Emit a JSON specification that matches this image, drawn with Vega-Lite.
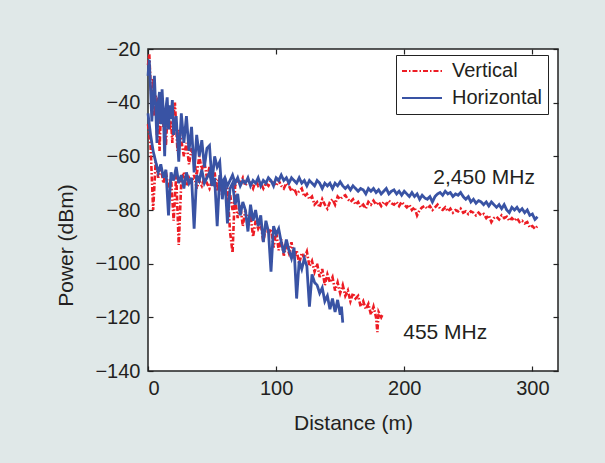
{
  "$schema": "https://vega.github.io/schema/vega-lite/v6.json",
  "width": 410,
  "height": 322,
  "autosize": {"type": "none"},
  "padding": {"left": 148, "top": 49, "right": 47, "bottom": 92},
  "background": "#e0e8e8",
  "config": {
    "view": {"fill": "white", "stroke": "#222", "strokeWidth": 1.5},
    "font": "Liberation Sans",
    "axis": {"grid": false, "domain": false, "ticks": true, "tickColor": "#222", "tickSize": -5, "tickWidth": 1.2,
      "labelFontSize": 20, "labelColor": "#231f20", "labelFont": "Liberation Sans",
      "titleFontSize": 21, "titleFontWeight": "normal", "titleColor": "#231f20", "titleFont": "Liberation Sans"},
    "legend": {"labelFont": "Liberation Sans"}
  },
  "datasets": {
    "v455": [
      {"x":0,"y":-26},{"x":1,"y":-22},{"x":2,"y":-33},{"x":3,"y":-40},{"x":4,"y":-31},{"x":5,"y":-45},{"x":6,"y":-37},{"x":7,"y":-52},{"x":8,"y":-38},{"x":9,"y":-58},
      {"x":10,"y":-44},{"x":11,"y":-40},{"x":12,"y":-49},{"x":13,"y":-43},{"x":14,"y":-56},{"x":15,"y":-46},{"x":16,"y":-42},{"x":17,"y":-50},{"x":18,"y":-47},{"x":19,"y":-55},
      {"x":20,"y":-44},{"x":21,"y":-40},{"x":22,"y":-49},{"x":23,"y":-58},{"x":24,"y":-50},{"x":26,"y":-54},{"x":28,"y":-60},{"x":30,"y":-55},{"x":32,"y":-63},{"x":34,"y":-57},
      {"x":36,"y":-62},{"x":38,"y":-67},{"x":40,"y":-60},{"x":42,"y":-65},{"x":44,"y":-62},{"x":46,"y":-68},{"x":48,"y":-64},{"x":50,"y":-70},{"x":52,"y":-66},{"x":54,"y":-73},
      {"x":56,"y":-68},{"x":58,"y":-75},{"x":60,"y":-71},{"x":62,"y":-78},{"x":64,"y":-74},{"x":66,"y":-80},{"x":68,"y":-76},{"x":70,"y":-83},{"x":72,"y":-78},{"x":74,"y":-86},
      {"x":76,"y":-80},{"x":78,"y":-84},{"x":80,"y":-82},{"x":82,"y":-90},{"x":84,"y":-84},{"x":86,"y":-87},{"x":88,"y":-85},{"x":90,"y":-92},{"x":92,"y":-86},{"x":94,"y":-89},
      {"x":96,"y":-87},{"x":98,"y":-94},{"x":100,"y":-88},{"x":102,"y":-95},{"x":104,"y":-91},{"x":106,"y":-97},{"x":108,"y":-93},{"x":110,"y":-96},{"x":112,"y":-92},{"x":114,"y":-98},
      {"x":116,"y":-95},{"x":118,"y":-100},{"x":120,"y":-96},{"x":122,"y":-98},{"x":124,"y":-95.5},{"x":126,"y":-101},{"x":128,"y":-99},{"x":130,"y":-103},{"x":132,"y":-100},{"x":134,"y":-105},
      {"x":136,"y":-102},{"x":138,"y":-108},{"x":140,"y":-104},{"x":142,"y":-107},{"x":144,"y":-105},{"x":146,"y":-110},{"x":148,"y":-107},{"x":150,"y":-111},{"x":152,"y":-108},{"x":154,"y":-112},
      {"x":156,"y":-110},{"x":158,"y":-114},{"x":160,"y":-111},{"x":162,"y":-113},{"x":164,"y":-112},{"x":166,"y":-116},{"x":168,"y":-114},{"x":170,"y":-117},{"x":172,"y":-115},{"x":174,"y":-119},
      {"x":176,"y":-116},{"x":178,"y":-120},{"x":179,"y":-125.5},{"x":180,"y":-118},{"x":182,"y":-120},{"x":183,"y":-119}
    ],
    "h455": [
      {"x":0,"y":-30},{"x":1,"y":-24},{"x":2,"y":-35},{"x":3,"y":-47},{"x":4,"y":-38},{"x":5,"y":-30},{"x":6,"y":-42},{"x":7,"y":-55},{"x":8,"y":-40},{"x":9,"y":-36},
      {"x":10,"y":-48},{"x":11,"y":-35},{"x":12,"y":-44},{"x":13,"y":-60},{"x":14,"y":-42},{"x":15,"y":-38},{"x":16,"y":-50},{"x":17,"y":-41},{"x":18,"y":-46},{"x":19,"y":-39},
      {"x":20,"y":-52},{"x":22,"y":-45},{"x":24,"y":-62},{"x":26,"y":-44},{"x":28,"y":-55},{"x":30,"y":-45},{"x":32,"y":-58},{"x":34,"y":-49},{"x":36,"y":-66},{"x":38,"y":-52},
      {"x":40,"y":-60},{"x":42,"y":-54},{"x":44,"y":-64},{"x":46,"y":-57},{"x":48,"y":-56},{"x":50,"y":-70},{"x":52,"y":-60},{"x":54,"y":-64},{"x":56,"y":-62},{"x":58,"y":-76},
      {"x":60,"y":-68},{"x":62,"y":-85},{"x":64,"y":-72},{"x":66,"y":-70},{"x":68,"y":-78},{"x":70,"y":-74},{"x":72,"y":-82},{"x":74,"y":-77},{"x":76,"y":-80},{"x":78,"y":-88},
      {"x":80,"y":-78},{"x":82,"y":-84},{"x":84,"y":-80},{"x":86,"y":-86},{"x":88,"y":-82},{"x":90,"y":-92},{"x":92,"y":-84},{"x":94,"y":-88},{"x":96,"y":-103},{"x":98,"y":-86},
      {"x":100,"y":-89},{"x":102,"y":-87},{"x":104,"y":-92},{"x":106,"y":-96},{"x":108,"y":-91},{"x":110,"y":-95},{"x":112,"y":-98},{"x":114,"y":-94},{"x":116,"y":-113},{"x":118,"y":-99},
      {"x":120,"y":-102},{"x":122,"y":-98},{"x":124,"y":-101},{"x":126,"y":-116},{"x":128,"y":-104},{"x":130,"y":-107},{"x":132,"y":-108},{"x":134,"y":-111},{"x":136,"y":-109},{"x":138,"y":-114},
      {"x":140,"y":-112},{"x":142,"y":-117},{"x":144,"y":-113},{"x":146,"y":-118},{"x":148,"y":-113.5},{"x":150,"y":-119},{"x":151,"y":-116},{"x":152,"y":-122}
    ],
    "v2450": [
      {"x":0,"y":-48},{"x":2,"y":-56},{"x":4,"y":-80},{"x":6,"y":-62},{"x":8,"y":-68},{"x":10,"y":-64},{"x":12,"y":-70},{"x":14,"y":-66},{"x":16,"y":-72},{"x":18,"y":-68},
      {"x":20,"y":-84},{"x":22,"y":-67},{"x":24,"y":-93},{"x":26,"y":-69},{"x":28,"y":-66},{"x":30,"y":-71},{"x":32,"y":-68},{"x":34,"y":-70},{"x":36,"y":-67},{"x":38,"y":-72},
      {"x":40,"y":-69},{"x":42,"y":-71},{"x":44,"y":-68},{"x":46,"y":-70},{"x":48,"y":-72},{"x":50,"y":-69},{"x":52,"y":-71},{"x":54,"y":-70},{"x":56,"y":-68},{"x":58,"y":-71},
      {"x":60,"y":-70},{"x":62,"y":-72},{"x":64,"y":-88},{"x":66,"y":-96},{"x":68,"y":-71},{"x":70,"y":-69},{"x":72,"y":-70},{"x":74,"y":-68},{"x":76,"y":-71},{"x":78,"y":-69},
      {"x":80,"y":-70},{"x":82,"y":-72},{"x":84,"y":-69},{"x":86,"y":-71},{"x":88,"y":-70},{"x":90,"y":-72},{"x":92,"y":-70},{"x":94,"y":-71},{"x":96,"y":-69},{"x":98,"y":-70},
      {"x":100,"y":-71},{"x":102,"y":-69},{"x":104,"y":-71},{"x":106,"y":-72},{"x":108,"y":-70},{"x":110,"y":-71},{"x":112,"y":-73},{"x":114,"y":-72},{"x":116,"y":-74},{"x":118,"y":-73},
      {"x":120,"y":-72},{"x":122,"y":-75},{"x":124,"y":-74},{"x":126,"y":-76},{"x":128,"y":-75},{"x":130,"y":-78},{"x":132,"y":-77},{"x":134,"y":-79},{"x":136,"y":-76},{"x":138,"y":-78},
      {"x":140,"y":-79.5},{"x":142,"y":-77},{"x":144,"y":-76},{"x":146,"y":-78},{"x":148,"y":-75},{"x":150,"y":-76},{"x":152,"y":-75},{"x":154,"y":-74.5},{"x":156,"y":-76},{"x":158,"y":-77},
      {"x":160,"y":-76},{"x":162,"y":-78},{"x":164,"y":-77},{"x":166,"y":-79},{"x":168,"y":-78},{"x":170,"y":-79.5},{"x":172,"y":-77},{"x":174,"y":-78},{"x":176,"y":-76.5},{"x":178,"y":-78},
      {"x":180,"y":-77},{"x":182,"y":-78.5},{"x":184,"y":-77},{"x":186,"y":-78},{"x":188,"y":-76.5},{"x":190,"y":-77.5},{"x":192,"y":-78},{"x":194,"y":-77},{"x":196,"y":-78.5},{"x":198,"y":-77},
      {"x":200,"y":-78},{"x":202,"y":-79},{"x":204,"y":-78},{"x":206,"y":-80},{"x":208,"y":-79},{"x":210,"y":-82},{"x":212,"y":-80},{"x":214,"y":-79},{"x":216,"y":-78.5},{"x":218,"y":-79.5},
      {"x":220,"y":-78.5},{"x":222,"y":-80},{"x":224,"y":-79},{"x":226,"y":-78},{"x":228,"y":-79.5},{"x":230,"y":-80},{"x":232,"y":-79},{"x":234,"y":-80.5},{"x":236,"y":-79.5},{"x":238,"y":-81},
      {"x":240,"y":-80},{"x":242,"y":-80.5},{"x":244,"y":-79.5},{"x":246,"y":-81},{"x":248,"y":-80.5},{"x":250,"y":-81.5},{"x":252,"y":-80.5},{"x":254,"y":-81},{"x":256,"y":-82},{"x":258,"y":-81},
      {"x":260,"y":-82},{"x":262,"y":-81.5},{"x":264,"y":-83},{"x":266,"y":-82},{"x":268,"y":-84.5},{"x":270,"y":-83},{"x":272,"y":-82.5},{"x":274,"y":-83.5},{"x":276,"y":-82},{"x":278,"y":-83},
      {"x":280,"y":-82.5},{"x":282,"y":-84},{"x":284,"y":-83},{"x":286,"y":-84},{"x":288,"y":-83},{"x":290,"y":-84.5},{"x":292,"y":-84},{"x":294,"y":-85},{"x":296,"y":-84.5},{"x":298,"y":-86.5},
      {"x":300,"y":-86},{"x":302,"y":-87},{"x":304,"y":-86}
    ],
    "h2450": [
      {"x":0,"y":-44},{"x":2,"y":-52},{"x":4,"y":-58},{"x":6,"y":-62},{"x":8,"y":-66},{"x":10,"y":-63},{"x":12,"y":-68},{"x":14,"y":-65},{"x":16,"y":-82},{"x":18,"y":-66},
      {"x":20,"y":-69},{"x":22,"y":-64},{"x":24,"y":-70},{"x":26,"y":-67},{"x":28,"y":-72},{"x":30,"y":-66},{"x":32,"y":-70},{"x":34,"y":-68},{"x":36,"y":-87},{"x":38,"y":-67},
      {"x":40,"y":-69},{"x":42,"y":-65},{"x":44,"y":-70},{"x":46,"y":-68},{"x":48,"y":-66},{"x":50,"y":-71},{"x":52,"y":-68},{"x":54,"y":-86},{"x":56,"y":-67},{"x":58,"y":-70},
      {"x":60,"y":-68},{"x":62,"y":-71},{"x":64,"y":-69},{"x":66,"y":-67},{"x":68,"y":-70},{"x":70,"y":-68},{"x":72,"y":-71},{"x":74,"y":-69},{"x":76,"y":-70},{"x":78,"y":-68},
      {"x":80,"y":-71},{"x":82,"y":-69},{"x":84,"y":-70},{"x":86,"y":-68},{"x":88,"y":-71},{"x":90,"y":-69},{"x":92,"y":-70},{"x":94,"y":-68},{"x":96,"y":-69},{"x":98,"y":-71},
      {"x":100,"y":-68},{"x":102,"y":-69},{"x":104,"y":-67},{"x":106,"y":-69},{"x":108,"y":-68},{"x":110,"y":-70},{"x":112,"y":-68},{"x":114,"y":-69},{"x":116,"y":-70},{"x":118,"y":-68},
      {"x":120,"y":-70},{"x":122,"y":-69},{"x":124,"y":-71},{"x":126,"y":-69},{"x":128,"y":-70},{"x":130,"y":-71},{"x":132,"y":-69},{"x":134,"y":-70},{"x":136,"y":-72},{"x":138,"y":-70},
      {"x":140,"y":-71},{"x":142,"y":-70},{"x":144,"y":-72},{"x":146,"y":-70},{"x":148,"y":-71},{"x":150,"y":-69.5},{"x":152,"y":-71},{"x":154,"y":-72},{"x":156,"y":-71},{"x":158,"y":-72.5},
      {"x":160,"y":-71},{"x":162,"y":-72},{"x":164,"y":-73},{"x":166,"y":-72},{"x":168,"y":-72.5},{"x":170,"y":-74},{"x":172,"y":-72},{"x":174,"y":-73},{"x":176,"y":-72},{"x":178,"y":-73.5},
      {"x":180,"y":-72.5},{"x":182,"y":-74},{"x":184,"y":-73},{"x":186,"y":-72},{"x":188,"y":-74},{"x":190,"y":-73},{"x":192,"y":-72.5},{"x":194,"y":-74},{"x":196,"y":-73},{"x":198,"y":-74.5},
      {"x":200,"y":-73},{"x":202,"y":-74},{"x":204,"y":-75},{"x":206,"y":-73.5},{"x":208,"y":-75},{"x":210,"y":-74},{"x":212,"y":-76},{"x":214,"y":-74.5},{"x":216,"y":-75.5},{"x":218,"y":-76},
      {"x":220,"y":-75},{"x":222,"y":-77},{"x":224,"y":-75},{"x":226,"y":-74},{"x":228,"y":-73.5},{"x":230,"y":-74.5},{"x":232,"y":-73},{"x":234,"y":-74},{"x":236,"y":-73.5},{"x":238,"y":-75},
      {"x":240,"y":-74},{"x":242,"y":-74.5},{"x":244,"y":-73.5},{"x":246,"y":-75},{"x":248,"y":-76},{"x":250,"y":-75},{"x":252,"y":-77},{"x":254,"y":-76},{"x":256,"y":-77.5},{"x":258,"y":-76.5},
      {"x":260,"y":-77},{"x":262,"y":-78},{"x":264,"y":-77},{"x":266,"y":-78.5},{"x":268,"y":-77},{"x":270,"y":-78},{"x":272,"y":-79},{"x":274,"y":-78},{"x":276,"y":-79.5},{"x":278,"y":-78},
      {"x":280,"y":-80},{"x":282,"y":-81},{"x":284,"y":-79},{"x":286,"y":-80},{"x":288,"y":-79},{"x":290,"y":-80.5},{"x":292,"y":-79.5},{"x":294,"y":-81},{"x":296,"y":-80},{"x":298,"y":-82},
      {"x":300,"y":-81.5},{"x":302,"y":-83.5},{"x":304,"y":-82.5}
    ],
    "lab": [
      {"x":222.7,"y":-68.2,"t":"2,450 MHz"},
      {"x":199.2,"y":-125.8,"t":"455 MHz"}
    ]
  },
  "resolve": {"axis": {"x": "independent", "y": "independent"}},
  "layer": [
    {
      "data": {"name": "v455"},
      "mark": {"type": "line", "strokeWidth": 2.6},
      "encoding": {
        "x": {"field": "x", "type": "quantitative", "scale": {"domain": [0, 320], "nice": false, "zero": false},
          "axis": {"orient": "bottom", "values": [0, 100, 200, 300], "title": "Distance (m)", "labelPadding": 12, "titlePadding": 14}},
        "y": {"field": "y", "type": "quantitative", "scale": {"domain": [-140, -20], "nice": false, "zero": false},
          "axis": {"orient": "left", "values": [-140, -120, -100, -80, -60, -40, -20], "title": "Power (dBm)", "labelPadding": 13, "titlePadding": 18, "titleY": 196}},
        "color": {"datum": "Vertical", "type": "nominal",
          "scale": {"domain": ["Vertical", "Horizontal"], "range": ["#ed1c24", "#3953a4"]},
          "legend": {"orient": "none", "legendX": 248, "legendY": 6, "title": null, "symbolType": "stroke", "symbolSize": 1600,
            "symbolStrokeWidth": 2, "clipHeight": 22, "labelFontSize": 20, "labelColor": "#231f20", "labelOffset": 9, "padding": 5,
            "rowPadding": 5, "fillColor": "white", "strokeColor": "#222"}},
        "strokeDash": {"datum": "Vertical", "type": "nominal",
          "scale": {"domain": ["Vertical", "Horizontal"], "range": [[5, 2, 1.5, 2], [1, 0]]},
          "legend": {"orient": "none", "legendX": 248, "legendY": 6, "title": null, "symbolType": "stroke", "symbolSize": 1600,
            "symbolStrokeWidth": 2, "clipHeight": 22, "labelFontSize": 20, "labelColor": "#231f20", "labelOffset": 9, "padding": 5,
            "rowPadding": 5, "fillColor": "white", "strokeColor": "#222"}}
      }
    },
    {
      "data": {"name": "v2450"},
      "mark": {"type": "line", "strokeWidth": 2.6},
      "encoding": {
        "x": {"field": "x", "type": "quantitative", "axis": null},
        "y": {"field": "y", "type": "quantitative", "axis": null},
        "color": {"datum": "Vertical", "type": "nominal"},
        "strokeDash": {"datum": "Vertical", "type": "nominal"}
      }
    },
    {
      "data": {"name": "h455"},
      "mark": {"type": "line", "strokeWidth": 2.8},
      "encoding": {
        "x": {"field": "x", "type": "quantitative", "axis": null},
        "y": {"field": "y", "type": "quantitative", "axis": null},
        "color": {"datum": "Horizontal", "type": "nominal"},
        "strokeDash": {"datum": "Horizontal", "type": "nominal"}
      }
    },
    {
      "data": {"name": "h2450"},
      "mark": {"type": "line", "strokeWidth": 2.8},
      "encoding": {
        "x": {"field": "x", "type": "quantitative", "axis": null},
        "y": {"field": "y", "type": "quantitative", "axis": null},
        "color": {"datum": "Horizontal", "type": "nominal"},
        "strokeDash": {"datum": "Horizontal", "type": "nominal"}
      }
    },
    {
      "data": {"name": "lab"},
      "mark": {"type": "text", "align": "left", "baseline": "middle", "fontSize": 21, "color": "#231f20", "font": "Liberation Sans"},
      "encoding": {
        "x": {"field": "x", "type": "quantitative",
          "axis": {"orient": "top", "values": [0, 100, 200, 300], "labels": false, "title": null}},
        "y": {"field": "y", "type": "quantitative",
          "axis": {"orient": "right", "values": [-140, -120, -100, -80, -60, -40, -20], "labels": false, "title": null}},
        "text": {"field": "t"}
      }
    }
  ]
}
